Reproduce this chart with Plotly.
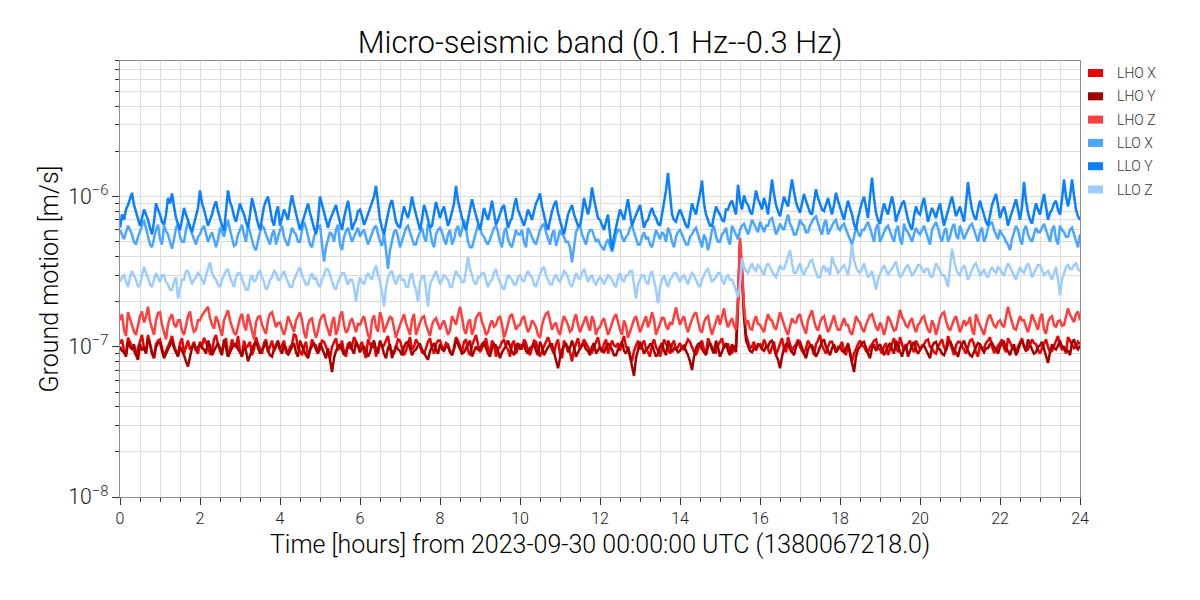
import numpy as np
import plotly.graph_objects as go

# band-limited ground motion, one sample every 0.05 h, in units of 1e-9 m/s
UNIT = 1e-9
STEP_HOURS = 0.05

LHO_X = [
    105, 112, 95, 88, 115, 106, 100, 94, 88, 98, 110, 120, 98, 92, 120, 104, 92, 85, 104, 110,
    112, 98, 86, 94, 100, 108, 118, 102, 94, 88, 106, 114, 90, 100, 110, 96, 100, 108, 96, 90,
    108, 100, 115, 106, 100, 90, 92, 112, 120, 104, 98, 94, 104, 114, 86, 96, 112, 102, 100, 118,
    94, 88, 110, 98, 102, 108, 88, 96, 116, 104, 98, 90, 106, 112, 92, 100, 110, 94, 100, 106,
    96, 104, 110, 92, 90, 100, 104, 122, 118, 98, 94, 88, 100, 108, 86, 94, 112, 104, 102, 92,
    96, 110, 108, 100, 90, 84, 100, 106, 114, 96, 98, 110, 92, 86, 106, 98, 100, 116, 110, 102,
    100, 108, 92, 84, 112, 104, 98, 106, 86, 96, 108, 100, 102, 110, 118, 96, 94, 90, 100, 112,
    110, 98, 88, 94, 104, 116, 96, 100, 112, 106, 100, 92, 90, 98, 108, 114, 98, 90, 104, 110,
    110, 100, 96, 106, 104, 94, 88, 98, 116, 110, 100, 92, 108, 112, 94, 88, 102, 110, 120, 104,
    92, 98, 104, 114, 98, 90, 110, 104, 86, 96, 100, 108, 112, 100, 96, 86, 104, 110, 90, 98,
    104, 96, 112, 106, 94, 88, 100, 110, 108, 98, 86, 94, 102, 108, 116, 104, 96, 90, 104, 112,
    90, 84, 110, 102, 100, 92, 80, 96, 106, 114, 96, 102, 112, 106, 100, 94, 92, 100, 108, 116,
    98, 92, 104, 112, 90, 98, 110, 102, 100, 106, 94, 108, 118, 100, 98, 88, 80, 94, 102, 110,
    96, 104, 110, 98, 92, 86, 104, 112, 100, 94, 86, 96, 112, 106, 98, 90, 104, 110, 94, 100,
    106, 98, 96, 104, 112, 108, 100, 92, 88, 96, 104, 110, 96, 90, 114, 106, 100, 94, 92, 102,
    108, 114, 98, 104, 104, 96, 90, 100, 102, 200, 500, 320, 170, 120, 110, 98, 100, 108, 94, 102,
    104, 98, 112, 104, 96, 90, 100, 108, 88, 96, 108, 114, 98, 92, 116, 106, 94, 100, 104, 112,
    100, 94, 90, 98, 110, 104, 98, 88, 104, 110, 120, 102, 96, 90, 100, 108, 108, 98, 92, 100,
    100, 108, 94, 88, 106, 92, 80, 90, 98, 104, 110, 102, 100, 94, 92, 100, 104, 110, 112, 98,
    96, 90, 100, 106, 88, 96, 108, 114, 100, 92, 116, 104, 94, 100, 104, 110, 98, 92, 110, 104,
    96, 102, 104, 110, 112, 100, 98, 92, 90, 100, 106, 112, 100, 94, 118, 106, 94, 88, 102, 108,
    108, 100, 96, 90, 100, 110, 112, 104, 92, 86, 104, 98, 98, 106, 110, 116, 100, 92, 94, 102,
    106, 112, 98, 92, 114, 106, 100, 96, 92, 100, 108, 114, 100, 94, 96, 104, 112, 106, 104, 96,
    90, 98, 106, 112, 100, 92, 94, 102, 110, 118, 102, 96, 98, 90, 116, 110, 104, 98, 100, 108,
    104,
]

LHO_Y = [
    100, 94, 92, 86, 108, 100, 96, 104, 88, 82, 104, 96, 98, 90, 114, 104, 90, 84, 100, 106,
    106, 96, 84, 90, 96, 102, 110, 98, 92, 86, 100, 94, 88, 80, 74, 86, 98, 104, 94, 100,
    104, 98, 96, 90, 110, 102, 88, 94, 100, 106, 94, 88, 112, 100, 86, 92, 98, 104, 104, 96,
    92, 86, 100, 94, 80, 88, 96, 104, 108, 98, 90, 96, 100, 108, 94, 88, 86, 96, 102, 110,
    96, 90, 104, 98, 88, 94, 100, 106, 92, 86, 110, 100, 94, 88, 84, 96, 100, 106, 96, 90,
    106, 98, 90, 84, 98, 80, 68, 84, 94, 100, 104, 96, 88, 94, 100, 108, 96, 90, 108, 100,
    92, 98, 100, 94, 86, 92, 104, 110, 96, 90, 110, 102, 90, 84, 98, 104, 84, 92, 102, 96,
    94, 88, 100, 106, 108, 98, 88, 94, 96, 102, 104, 96, 92, 86, 82, 94, 100, 106, 96, 90,
    104, 96, 94, 100, 100, 92, 88, 96, 112, 104, 96, 90, 92, 98, 104, 110, 86, 94, 100, 96,
    96, 104, 108, 98, 90, 86, 98, 104, 102, 94, 84, 92, 96, 102, 110, 100, 92, 88, 100, 106,
    96, 102, 104, 94, 90, 98, 100, 106, 94, 88, 108, 100, 88, 94, 98, 104, 104, 92, 82, 72,
    84, 96, 100, 106, 92, 98, 110, 100, 86, 92, 98, 104, 104, 96, 94, 88, 100, 106, 90, 96,
    100, 94, 92, 98, 106, 100, 96, 88, 88, 96, 102, 108, 94, 90, 100, 86, 78, 64, 84, 96,
    108, 100, 90, 96, 98, 104, 104, 94, 86, 90, 100, 106, 94, 88, 110, 102, 92, 98, 98, 92,
    94, 100, 102, 94, 88, 80, 70, 86, 98, 104, 106, 96, 92, 88, 100, 106, 96, 90, 110, 100,
    86, 94, 100, 106, 94, 88, 104, 98, 92, 190, 460, 300, 160, 110, 100, 94, 92, 98, 98, 104,
    102, 96, 94, 100, 100, 108, 110, 98, 88, 82, 72, 86, 98, 104, 104, 96, 92, 88, 100, 106,
    108, 98, 90, 84, 96, 102, 102, 94, 86, 92, 100, 108, 112, 100, 94, 88, 98, 104, 92, 96,
    100, 94, 92, 98, 104, 90, 80, 68, 86, 96, 100, 106, 108, 98, 90, 84, 98, 104, 94, 100,
    104, 96, 88, 94, 100, 106, 96, 90, 110, 102, 92, 86, 98, 104, 86, 94, 102, 108, 96, 90,
    94, 100, 102, 96, 90, 84, 100, 106, 108, 98, 96, 90, 88, 96, 104, 110, 100, 94, 92, 86,
    98, 104, 110, 100, 94, 88, 86, 94, 100, 106, 104, 96, 92, 98, 98, 104, 106, 100, 96, 90,
    100, 106, 108, 98, 94, 88, 98, 104, 88, 94, 104, 110, 100, 94, 112, 102, 96, 90, 92, 100,
    102, 108, 98, 86, 78, 92, 104, 98, 96, 102, 110, 100, 100, 94, 94, 88, 106, 112, 100, 96,
    102,
]

LHO_Z = [
    150, 165, 130, 118, 170, 152, 140, 126, 120, 138, 160, 172, 145, 158, 185, 148, 130, 120, 150, 168,
    170, 140, 125, 112, 140, 156, 165, 142, 135, 150, 150, 128, 120, 140, 160, 172, 140, 126, 130, 150,
    150, 162, 170, 178, 185, 156, 140, 132, 160, 148, 130, 118, 150, 164, 175, 150, 135, 124, 120, 138,
    155, 166, 140, 128, 165, 146, 125, 112, 145, 158, 160, 140, 130, 122, 150, 166, 170, 148, 135, 144,
    145, 130, 120, 134, 160, 148, 135, 126, 150, 162, 170, 150, 125, 114, 140, 152, 155, 130, 115, 128,
    150, 160, 165, 142, 130, 118, 145, 158, 120, 132, 160, 172, 140, 124, 130, 146, 155, 138, 125, 142,
    140, 152, 160, 138, 120, 112, 150, 162, 135, 126, 170, 154, 125, 136, 145, 158, 155, 132, 115, 128,
    140, 150, 165, 144, 130, 120, 150, 166, 120, 134, 145, 156, 160, 140, 130, 118, 140, 150, 155, 140,
    130, 142, 150, 134, 120, 128, 160, 150, 140, 162, 185, 158, 130, 122, 145, 152, 120, 132, 155, 164,
    170, 146, 135, 120, 125, 140, 150, 136, 140, 154, 160, 140, 115, 126, 145, 160, 165, 148, 130, 138,
    140, 154, 160, 140, 125, 134, 150, 144, 135, 120, 115, 138, 155, 166, 170, 150, 130, 140, 145, 128,
    120, 142, 160, 150, 140, 126, 130, 152, 165, 140, 125, 136, 150, 160, 140, 128, 160, 148, 120, 132,
    135, 148, 155, 134, 120, 130, 145, 158, 165, 144, 130, 120, 150, 138, 115, 126, 140, 152, 160, 138,
    125, 136, 150, 160, 135, 148, 170, 152, 120, 130, 145, 156, 155, 138, 130, 146, 140, 160, 183, 158,
    140, 152, 160, 138, 125, 140, 150, 164, 170, 148, 130, 124, 145, 156, 160, 136, 120, 134, 150, 162,
    140, 158, 180, 150, 135, 146, 155, 138, 130, 210, 530, 340, 190, 140, 150, 132, 130, 148, 160, 142,
    140, 132, 125, 146, 165, 152, 150, 136, 130, 148, 170, 156, 140, 128, 120, 138, 155, 146, 145, 160,
    165, 144, 130, 122, 150, 162, 175, 150, 135, 128, 145, 156, 160, 140, 125, 134, 150, 162, 140, 130,
    130, 142, 155, 140, 140, 126, 120, 136, 160, 150, 145, 132, 125, 140, 150, 162, 165, 146, 135, 128,
    145, 136, 120, 134, 160, 150, 140, 128, 130, 150, 176, 158, 150, 138, 135, 148, 155, 136, 125, 140,
    145, 156, 160, 142, 130, 124, 150, 140, 120, 134, 155, 166, 170, 150, 135, 128, 140, 152, 160, 144,
    125, 136, 150, 140, 145, 158, 130, 120, 165, 150, 140, 128, 120, 138, 155, 164, 150, 138, 135, 146,
    150, 140, 135, 160, 185, 162, 145, 132, 130, 146, 160, 150, 150, 136, 125, 140, 165, 152, 140, 130,
    155, 166, 130, 122, 145, 156, 160, 140, 135, 148, 150, 138, 140, 162, 180, 164, 155, 146, 165, 172,
    150,
]

LLO_X = [
    600, 560, 520, 580, 640, 600, 560, 500, 480, 540, 580, 640, 700, 610, 540, 480, 460, 530, 600, 650,
    520, 480, 640, 590, 560, 500, 450, 520, 620, 660, 540, 500, 500, 600, 680, 620, 560, 520, 480, 540,
    560, 610, 640, 560, 500, 540, 580, 520, 460, 520, 620, 580, 540, 620, 700, 600, 520, 470, 480, 560,
    600, 650, 560, 500, 650, 580, 500, 460, 440, 520, 580, 640, 620, 560, 520, 480, 560, 600, 480, 540,
    600, 640, 540, 500, 470, 540, 620, 580, 560, 500, 500, 600, 680, 620, 540, 480, 460, 540, 580, 630,
    640, 480, 370, 460, 520, 580, 560, 500, 600, 650, 480, 440, 540, 590, 620, 560, 500, 540, 580, 620,
    540, 580, 600, 540, 480, 520, 560, 620, 640, 560, 500, 470, 580, 440, 330, 440, 520, 580, 600, 540,
    460, 500, 560, 620, 640, 580, 520, 480, 480, 540, 580, 620, 540, 500, 660, 600, 500, 460, 560, 600,
    620, 580, 520, 480, 560, 600, 480, 520, 600, 640, 540, 600, 700, 620, 500, 460, 460, 530, 580, 640,
    620, 560, 540, 500, 480, 520, 560, 620, 640, 580, 500, 460, 580, 620, 520, 480, 460, 540, 600, 560,
    560, 600, 500, 460, 620, 580, 540, 500, 480, 540, 600, 640, 660, 580, 520, 480, 560, 600, 470, 520,
    600, 560, 540, 500, 500, 460, 365, 460, 580, 620, 640, 560, 520, 480, 560, 600, 600, 540, 500, 520,
    480, 460, 440, 490, 520, 470, 430, 480, 560, 600, 600, 540, 500, 540, 560, 620, 640, 580, 520, 480,
    480, 540, 580, 520, 540, 480, 460, 520, 600, 560, 520, 580, 560, 500, 620, 580, 500, 460, 540, 580,
    600, 560, 520, 480, 480, 540, 560, 600, 620, 560, 500, 460, 560, 520, 440, 500, 600, 640, 540, 500,
    500, 560, 580, 620, 520, 480, 640, 600, 560, 520, 600, 640, 660, 600, 560, 620, 700, 660, 620, 580,
    680, 620, 580, 640, 640, 700, 720, 640, 560, 600, 660, 620, 600, 680, 760, 660, 620, 560, 560, 620,
    700, 660, 640, 580, 580, 640, 680, 720, 740, 660, 600, 560, 660, 700, 560, 600, 640, 680, 700, 620,
    600, 640, 660, 600, 560, 520, 480, 540, 620, 580, 540, 600, 600, 640, 680, 620, 560, 500, 620, 660,
    500, 540, 580, 620, 640, 580, 540, 500, 600, 640, 520, 480, 660, 600, 580, 540, 500, 560, 620, 580,
    560, 600, 640, 580, 520, 480, 600, 640, 680, 620, 540, 500, 580, 620, 500, 540, 620, 660, 560, 520,
    640, 580, 520, 560, 600, 640, 660, 600, 540, 500, 580, 620, 500, 540, 620, 660, 680, 600, 560, 520,
    600, 560, 540, 500, 480, 440, 520, 580, 640, 600, 520, 480, 600, 640, 560, 520, 500, 560, 620, 580,
    580, 620, 660, 600, 540, 500, 600, 640, 520, 480, 640, 600, 580, 540, 540, 600, 620, 560, 500, 460,
    560,
]

LLO_Y = [
    620, 760, 700, 820, 880, 960, 1060, 880, 780, 700, 640, 720, 820, 760, 700, 620, 560, 680, 900, 820,
    760, 680, 650, 760, 980, 900, 1050, 860, 720, 660, 600, 700, 840, 760, 690, 620, 580, 660, 760, 840,
    1100, 900, 820, 720, 640, 700, 760, 860, 930, 800, 700, 640, 590, 820, 1100, 920, 850, 740, 680, 780,
    900, 820, 760, 680, 620, 760, 980, 860, 740, 660, 600, 720, 860, 940, 1000, 840, 700, 640, 780, 860,
    640, 720, 820, 760, 700, 860, 1020, 880, 780, 680, 600, 660, 730, 820, 900, 780, 680, 620, 560, 700,
    1000, 880, 800, 700, 620, 700, 760, 820, 880, 760, 660, 600, 720, 820, 940, 780, 600, 660, 700, 800,
    820, 740, 650, 700, 760, 840, 900, 1000, 1180, 860, 700, 620, 560, 660, 780, 880, 950, 800, 680, 640,
    620, 740, 860, 780, 720, 820, 1000, 860, 760, 680, 600, 700, 880, 800, 700, 620, 640, 760, 920, 820,
    720, 800, 860, 740, 640, 700, 780, 900, 1180, 940, 820, 720, 640, 600, 700, 820, 960, 840, 760, 680,
    600, 700, 840, 760, 700, 800, 940, 780, 650, 700, 760, 840, 880, 720, 620, 680, 720, 860, 980, 820,
    760, 700, 640, 720, 820, 760, 700, 800, 900, 960, 1050, 860, 740, 660, 600, 700, 800, 880, 940, 780,
    680, 620, 560, 660, 760, 820, 880, 760, 700, 640, 640, 760, 980, 860, 760, 880, 1150, 960, 820, 720,
    700, 640, 600, 680, 760, 560, 440, 540, 620, 720, 820, 760, 700, 820, 960, 780, 640, 700, 760, 820,
    880, 740, 620, 680, 700, 780, 840, 760, 720, 660, 640, 760, 900, 1100, 1440, 1000, 760, 700, 680, 760,
    820, 760, 700, 640, 620, 760, 900, 820, 760, 900, 1040, 1280, 900, 760, 700, 640, 640, 760, 860, 800,
    760, 700, 680, 820, 820, 900, 940, 840, 760, 1200, 940, 820, 1020, 920, 880, 800, 760, 900, 1100, 960,
    900, 820, 980, 880, 760, 980, 1300, 1040, 880, 800, 740, 860, 1000, 920, 860, 1060, 1300, 1080, 920, 840,
    780, 900, 1040, 940, 860, 780, 760, 920, 1120, 980, 900, 820, 800, 900, 980, 860, 760, 880, 1060, 940,
    860, 780, 700, 820, 940, 840, 760, 660, 600, 720, 820, 920, 1000, 840, 720, 1000, 1340, 980, 780, 700,
    660, 780, 900, 820, 760, 880, 1000, 860, 680, 760, 820, 900, 940, 800, 700, 640, 600, 740, 860, 780,
    760, 880, 980, 820, 680, 760, 840, 780, 720, 820, 900, 760, 640, 720, 800, 900, 1000, 860, 740, 800,
    860, 760, 680, 900, 1250, 980, 820, 740, 700, 820, 940, 840, 760, 680, 640, 760, 880, 960, 1040, 880,
    720, 800, 860, 760, 640, 720, 800, 880, 960, 820, 700, 860, 1250, 940, 780, 700, 660, 780, 900, 820,
    760, 900, 1040, 860, 700, 780, 820, 900, 940, 820, 760, 960, 1300, 1000, 860, 1000, 1300, 1020, 820, 740,
    700,
]

LLO_Z = [
    270, 290, 300, 270, 250, 290, 320, 300, 280, 250, 260, 300, 340, 310, 290, 260, 250, 280, 310, 290,
    270, 300, 300, 270, 260, 240, 240, 270, 290, 210, 250, 280, 280, 320, 320, 290, 260, 280, 290, 310,
    300, 280, 260, 300, 330, 365, 310, 290, 280, 260, 250, 280, 300, 320, 330, 290, 270, 250, 290, 310,
    310, 280, 260, 240, 240, 280, 300, 270, 280, 310, 320, 290, 270, 240, 250, 280, 290, 320, 310, 280,
    280, 300, 320, 290, 270, 250, 250, 280, 300, 320, 340, 300, 280, 260, 260, 290, 310, 280, 290, 260,
    250, 280, 300, 330, 330, 300, 270, 250, 240, 270, 290, 310, 310, 280, 260, 280, 280, 250, 200, 250,
    290, 270, 260, 290, 310, 290, 280, 320, 350, 300, 270, 230, 185, 250, 290, 310, 320, 280, 260, 290,
    300, 280, 280, 250, 250, 290, 310, 260, 240, 200, 270, 290, 300, 240, 185, 260, 280, 300, 320, 290,
    260, 280, 300, 290, 280, 250, 250, 290, 320, 300, 290, 270, 270, 320, 395, 330, 300, 270, 260, 290,
    290, 310, 310, 280, 250, 270, 280, 310, 330, 290, 270, 250, 240, 270, 300, 290, 280, 260, 260, 290,
    300, 280, 270, 300, 320, 300, 290, 260, 250, 280, 310, 330, 340, 300, 280, 260, 260, 290, 300, 280,
    270, 300, 320, 310, 290, 260, 250, 280, 310, 290, 280, 310, 330, 300, 270, 290, 300, 270, 260, 280,
    290, 280, 260, 280, 300, 290, 280, 260, 250, 290, 310, 280, 270, 300, 300, 320, 320, 260, 210, 260,
    280, 300, 300, 270, 260, 300, 320, 280, 240, 195, 250, 280, 300, 270, 250, 280, 290, 310, 310, 290,
    270, 290, 300, 280, 260, 290, 310, 300, 280, 260, 250, 280, 300, 320, 330, 300, 270, 280, 290, 310,
    310, 280, 260, 290, 300, 280, 280, 260, 240, 215, 260, 390, 340, 320, 310, 340, 360, 330, 320, 350,
    340, 320, 300, 340, 360, 340, 320, 300, 290, 320, 350, 330, 330, 360, 400, 440, 360, 310, 310, 340,
    360, 320, 300, 330, 340, 370, 380, 340, 310, 290, 290, 330, 350, 320, 330, 300, 400, 360, 340, 310,
    320, 340, 350, 320, 300, 360, 480, 380, 340, 320, 310, 330, 360, 320, 290, 300, 320, 280, 240, 280,
    310, 330, 350, 320, 300, 320, 330, 350, 370, 320, 290, 300, 320, 340, 350, 320, 300, 310, 330, 350,
    350, 330, 310, 330, 330, 300, 290, 320, 360, 340, 320, 300, 300, 280, 250, 330, 450, 380, 330, 310,
    300, 330, 350, 320, 280, 300, 320, 350, 360, 330, 300, 310, 330, 300, 290, 320, 340, 320, 310, 340,
    330, 310, 300, 330, 360, 340, 320, 300, 280, 310, 340, 320, 310, 340, 360, 330, 290, 310, 330, 350,
    350, 320, 300, 310, 320, 300, 280, 310, 340, 280, 220, 280, 310, 340, 350, 330, 330, 350, 360, 330,
    320,
]

NAMES = ["LHO X", "LHO Y", "LHO Z", "LLO X", "LLO Y", "LLO Z"]
SERIES = [LHO_X, LHO_Y, LHO_Z, LLO_X, LLO_Y, LLO_Z]
COLORS = ["#ee0000", "#a30000", "#ff3e3e", "#4ba6ff", "#0a7fff", "#9dcdff"]

fig = go.Figure()
for name, values, color in zip(NAMES, SERIES, COLORS):
    hours = np.arange(len(values)) * STEP_HOURS
    fig.add_trace(go.Scatter(
        x=hours, y=np.array(values) * UNIT, mode="lines", name=name,
        line=dict(color=color, width=2.5), showlegend=False,
    ))

# matplotlib-style legend: small colour patches beside the axes
for i, (name, color) in enumerate(zip(NAMES, COLORS)):
    yc = 1 - (12 + 23.3 * i) / 436
    fig.add_shape(type="rect", xref="paper", yref="paper",
                  x0=1.0083, x1=1.024, y0=yc - 0.0092, y1=yc + 0.0092,
                  fillcolor=color, line=dict(width=0))
    fig.add_annotation(text=name, xref="paper", yref="paper", x=1.036, y=yc,
                       xanchor="left", yanchor="middle", showarrow=False,
                       font=dict(size=14, color="#333"))

grid = "#dcdcdc"
axis_line = "#8c8c8c"
fig.update_xaxes(
    range=[0, 24], tick0=0, dtick=2,
    ticks="outside", ticklen=7, tickwidth=1, tickcolor="#333",
    showline=True, linecolor=axis_line, linewidth=1, mirror=True,
    showgrid=True, gridcolor=grid, gridwidth=1, zeroline=False,
    minor=dict(dtick=0.5, ticks="outside", ticklen=4, tickcolor="#333",
               showgrid=True, gridcolor=grid),
    tickfont=dict(size=16, color="#222"), automargin=False,
    title=dict(text="Time [hours] from 2023-09-30 00:00:00 UTC (1380067218.0)",
               font=dict(size=25, color="#000"), standoff=8),
)
fig.update_yaxes(
    type="log", range=[-8, -5.097], dtick=1,
    exponentformat="power", showexponent="all",
    ticks="outside", ticklen=7, tickwidth=1, tickcolor="#333",
    showline=True, linecolor=axis_line, linewidth=1, mirror=True,
    showgrid=True, gridcolor=grid, gridwidth=1, zeroline=False,
    minor=dict(dtick="D1", ticks="outside", ticklen=4, tickcolor="#333",
               showgrid=True, gridcolor=grid),
    tickfont=dict(size=17, color="#222"), automargin=False,
    title=dict(text="Ground motion [m/s]", font=dict(size=25, color="#000"), standoff=2),
)
fig.update_layout(
    width=1200, height=600,
    margin=dict(l=120, r=120, t=61, b=103),
    paper_bgcolor="white", plot_bgcolor="white",
    font=dict(family="Roboto Light, Roboto, sans-serif", weight=300, color="#000"),
    title=dict(text="Micro-seismic band (0.1 Hz--0.3 Hz)", x=0.5, xanchor="center",
               y=0.93, yanchor="middle", font=dict(size=31, color="#000")),
    showlegend=False,
)

fig.write_html("out.html", config={"displayModeBar": False},
               post_script="document.body.style.margin='0px';")
